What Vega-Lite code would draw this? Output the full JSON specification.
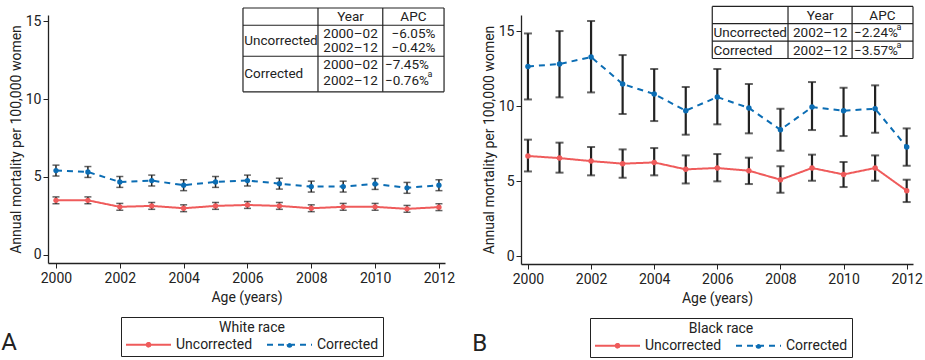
{
  "$schema": "https://vega.github.io/schema/vega-lite/v6.json",
  "padding": {"left": 1, "top": 5, "right": 5, "bottom": 3},
  "spacing": 17,
  "datasets": {
    "white": [
      {"year": 2000, "series": "Uncorrected", "value": 3.49, "lo": 3.27, "hi": 3.71},
      {"year": 2001, "series": "Uncorrected", "value": 3.49, "lo": 3.27, "hi": 3.71},
      {"year": 2002, "series": "Uncorrected", "value": 3.07, "lo": 2.85, "hi": 3.29},
      {"year": 2003, "series": "Uncorrected", "value": 3.13, "lo": 2.91, "hi": 3.35},
      {"year": 2004, "series": "Uncorrected", "value": 2.98, "lo": 2.76, "hi": 3.2},
      {"year": 2005, "series": "Uncorrected", "value": 3.13, "lo": 2.91, "hi": 3.35},
      {"year": 2006, "series": "Uncorrected", "value": 3.19, "lo": 2.97, "hi": 3.41},
      {"year": 2007, "series": "Uncorrected", "value": 3.13, "lo": 2.91, "hi": 3.35},
      {"year": 2008, "series": "Uncorrected", "value": 2.98, "lo": 2.76, "hi": 3.2},
      {"year": 2009, "series": "Uncorrected", "value": 3.07, "lo": 2.85, "hi": 3.29},
      {"year": 2010, "series": "Uncorrected", "value": 3.07, "lo": 2.85, "hi": 3.29},
      {"year": 2011, "series": "Uncorrected", "value": 2.94, "lo": 2.72, "hi": 3.16},
      {"year": 2012, "series": "Uncorrected", "value": 3.05, "lo": 2.83, "hi": 3.27},
      {"year": 2000, "series": "Corrected", "value": 5.4, "lo": 5.05, "hi": 5.75},
      {"year": 2001, "series": "Corrected", "value": 5.31, "lo": 4.96, "hi": 5.66},
      {"year": 2002, "series": "Corrected", "value": 4.67, "lo": 4.32, "hi": 5.02},
      {"year": 2003, "series": "Corrected", "value": 4.76, "lo": 4.41, "hi": 5.11},
      {"year": 2004, "series": "Corrected", "value": 4.46, "lo": 4.11, "hi": 4.81},
      {"year": 2005, "series": "Corrected", "value": 4.67, "lo": 4.32, "hi": 5.02},
      {"year": 2006, "series": "Corrected", "value": 4.76, "lo": 4.41, "hi": 5.11},
      {"year": 2007, "series": "Corrected", "value": 4.56, "lo": 4.21, "hi": 4.91},
      {"year": 2008, "series": "Corrected", "value": 4.37, "lo": 4.02, "hi": 4.72},
      {"year": 2009, "series": "Corrected", "value": 4.37, "lo": 4.02, "hi": 4.72},
      {"year": 2010, "series": "Corrected", "value": 4.54, "lo": 4.19, "hi": 4.89},
      {"year": 2011, "series": "Corrected", "value": 4.29, "lo": 3.94, "hi": 4.64},
      {"year": 2012, "series": "Corrected", "value": 4.46, "lo": 4.11, "hi": 4.81}
    ],
    "black": [
      {"year": 2000, "series": "Uncorrected", "value": 6.67, "lo": 5.64, "hi": 7.76},
      {"year": 2001, "series": "Uncorrected", "value": 6.53, "lo": 5.56, "hi": 7.56},
      {"year": 2002, "series": "Uncorrected", "value": 6.33, "lo": 5.38, "hi": 7.27},
      {"year": 2003, "series": "Uncorrected", "value": 6.16, "lo": 5.22, "hi": 7.11},
      {"year": 2004, "series": "Uncorrected", "value": 6.24, "lo": 5.38, "hi": 7.2},
      {"year": 2005, "series": "Uncorrected", "value": 5.78, "lo": 4.84, "hi": 6.71},
      {"year": 2006, "series": "Uncorrected", "value": 5.87, "lo": 4.98, "hi": 6.8},
      {"year": 2007, "series": "Uncorrected", "value": 5.69, "lo": 4.8, "hi": 6.56},
      {"year": 2008, "series": "Uncorrected", "value": 5.09, "lo": 4.22, "hi": 5.98},
      {"year": 2009, "series": "Uncorrected", "value": 5.87, "lo": 5.02, "hi": 6.76},
      {"year": 2010, "series": "Uncorrected", "value": 5.44, "lo": 4.6, "hi": 6.27},
      {"year": 2011, "series": "Uncorrected", "value": 5.87, "lo": 5.02, "hi": 6.71},
      {"year": 2012, "series": "Uncorrected", "value": 4.36, "lo": 3.6, "hi": 5.09},
      {"year": 2000, "series": "Corrected", "value": 12.64, "lo": 10.44, "hi": 14.84},
      {"year": 2001, "series": "Corrected", "value": 12.8, "lo": 10.58, "hi": 15.0},
      {"year": 2002, "series": "Corrected", "value": 13.27, "lo": 10.91, "hi": 15.67},
      {"year": 2003, "series": "Corrected", "value": 11.47, "lo": 9.47, "hi": 13.4},
      {"year": 2004, "series": "Corrected", "value": 10.8, "lo": 9.0, "hi": 12.47},
      {"year": 2005, "series": "Corrected", "value": 9.69, "lo": 8.09, "hi": 11.27},
      {"year": 2006, "series": "Corrected", "value": 10.6, "lo": 8.78, "hi": 12.47},
      {"year": 2007, "series": "Corrected", "value": 9.87, "lo": 8.18, "hi": 11.47},
      {"year": 2008, "series": "Corrected", "value": 8.42, "lo": 7.02, "hi": 9.82},
      {"year": 2009, "series": "Corrected", "value": 9.93, "lo": 8.4, "hi": 11.6},
      {"year": 2010, "series": "Corrected", "value": 9.69, "lo": 8.0, "hi": 11.22},
      {"year": 2011, "series": "Corrected", "value": 9.82, "lo": 8.22, "hi": 11.38},
      {"year": 2012, "series": "Corrected", "value": 7.27, "lo": 6.02, "hi": 8.51}
    ],
    "whiteGrid": [
      {"x": 2005.86, "x2": 2012.16, "y": 15.85, "y2": 15.85},
      {"x": 2005.86, "x2": 2012.16, "y": 14.74, "y2": 14.74},
      {"x": 2005.86, "x2": 2012.16, "y": 12.75, "y2": 12.75},
      {"x": 2005.86, "x2": 2012.16, "y": 10.46, "y2": 10.46},
      {"x": 2005.86, "x2": 2005.86, "y": 15.85, "y2": 10.46},
      {"x": 2008.21, "x2": 2008.21, "y": 15.85, "y2": 10.46},
      {"x": 2010.24, "x2": 2010.24, "y": 15.85, "y2": 10.46},
      {"x": 2012.16, "x2": 2012.16, "y": 15.85, "y2": 10.46}
    ],
    "whiteLeft": [
      {"x": 2005.9, "y": 13.73, "t": "Uncorrected"},
      {"x": 2005.9, "y": 11.61, "t": "Corrected"},
      {"x": 2010.31, "y": 12.17, "t": "−7.45%"},
      {"x": 2010.31, "y": 11.16, "t": "−0.76%"}
    ],
    "whiteCenter": [
      {"x": 2009.23, "y": 15.3, "t": "Year"},
      {"x": 2011.2, "y": 15.3, "t": "APC"},
      {"x": 2009.23, "y": 14.2, "t": "2000–02"},
      {"x": 2009.23, "y": 13.28, "t": "2002–12"},
      {"x": 2009.23, "y": 12.17, "t": "2000–02"},
      {"x": 2009.23, "y": 11.16, "t": "2002–12"},
      {"x": 2011.2, "y": 14.2, "t": "−6.05%"},
      {"x": 2011.2, "y": 13.28, "t": "−0.42%"}
    ],
    "whiteSup": [
      {"x": 2011.64, "y": 11.63, "t": "a"}
    ],
    "blackGrid": [
      {"x": 2005.84, "x2": 2012.2, "y": 16.64, "y2": 16.64},
      {"x": 2005.84, "x2": 2012.2, "y": 15.49, "y2": 15.49},
      {"x": 2005.84, "x2": 2012.2, "y": 14.33, "y2": 14.33},
      {"x": 2005.84, "x2": 2012.2, "y": 13.17, "y2": 13.17},
      {"x": 2005.84, "x2": 2005.84, "y": 16.64, "y2": 13.17},
      {"x": 2008.24, "x2": 2008.24, "y": 16.64, "y2": 13.17},
      {"x": 2010.27, "x2": 2010.27, "y": 16.64, "y2": 13.17},
      {"x": 2012.2, "x2": 2012.2, "y": 16.64, "y2": 13.17}
    ],
    "blackLeft": [
      {"x": 2005.88, "y": 14.84, "t": "Uncorrected"},
      {"x": 2005.88, "y": 13.67, "t": "Corrected"},
      {"x": 2010.33, "y": 14.84, "t": "−2.24%"},
      {"x": 2010.33, "y": 13.67, "t": "−3.57%"}
    ],
    "blackCenter": [
      {"x": 2009.26, "y": 16.02, "t": "Year"},
      {"x": 2011.23, "y": 16.02, "t": "APC"},
      {"x": 2009.26, "y": 14.84, "t": "2002–12"},
      {"x": 2009.26, "y": 13.67, "t": "2002–12"}
    ],
    "blackSup": [
      {"x": 2011.68, "y": 15.25, "t": "a"},
      {"x": 2011.68, "y": 14.05, "t": "a"}
    ]
  },
  "hconcat": [
    {
      "width": 397,
      "height": 248,
      "title": {"text": "A", "orient": "bottom", "anchor": "start", "frame": "bounds", "fontSize": 24, "fontWeight": "normal", "dx": -8, "dy": -30},
      "layer": [
        {
          "data": {"name": "white"},
          "mark": {"type": "errorbar", "color": "#222222", "ticks": {"size": 7, "thickness": 1.5}, "rule": {"strokeWidth": 1.5}},
          "encoding": {
            "x": {"field": "year", "type": "quantitative", "title": "Age (years)", "scale": {"domain": [1999.75, 2012.19], "nice": false, "zero": false}},
            "y": {"field": "lo", "type": "quantitative", "title": "Annual mortality per 100,000 women", "scale": {"domain": [-0.54, 15.4], "nice": false, "zero": false}},
            "y2": {"field": "hi"}
          }
        },
        {
          "data": {"name": "white"},
          "mark": {"type": "line", "strokeWidth": 2, "point": {"filled": true, "size": 28, "opacity": 1}},
          "encoding": {
            "x": {"field": "year", "type": "quantitative", "title": "Age (years)",
              "axis": {"values": [2000, 2002, 2004, 2006, 2008, 2010, 2012], "format": "d"}},
            "y": {"field": "value", "type": "quantitative", "title": "Annual mortality per 100,000 women",
              "axis": {"values": [0, 5, 10, 15]}},
            "color": {"field": "series", "type": "nominal", "title": "White race",
              "scale": {"domain": ["Uncorrected", "Corrected"], "range": ["#ef5b5b", "#0b6db4"]},
              "legend": {"orient": "none", "legendX": 73, "legendY": 302}},
            "strokeDash": {"field": "series", "type": "nominal", "title": "White race",
              "scale": {"domain": ["Uncorrected", "Corrected"], "range": [[1, 0], [6, 5]]},
              "legend": {"orient": "none", "legendX": 73, "legendY": 302}}
          }
        },
        {
          "data": {"name": "whiteGrid"},
          "mark": {"type": "rule", "color": "#222222", "strokeWidth": 1.2},
          "encoding": {
            "x": {"field": "x", "type": "quantitative"},
            "x2": {"field": "x2"},
            "y": {"field": "y", "type": "quantitative"},
            "y2": {"field": "y2"}
          }
        },
        {
          "data": {"name": "whiteLeft"},
          "mark": {"type": "text", "align": "left", "baseline": "middle", "fontSize": 13.5, "color": "#222222"},
          "encoding": {
            "x": {"field": "x", "type": "quantitative"},
            "y": {"field": "y", "type": "quantitative"},
            "text": {"field": "t"}
          }
        },
        {
          "data": {"name": "whiteCenter"},
          "mark": {"type": "text", "align": "center", "baseline": "middle", "fontSize": 13.5, "color": "#222222"},
          "encoding": {
            "x": {"field": "x", "type": "quantitative"},
            "y": {"field": "y", "type": "quantitative"},
            "text": {"field": "t"}
          }
        },
        {
          "data": {"name": "whiteSup"},
          "mark": {"type": "text", "align": "left", "baseline": "middle", "fontSize": 9, "color": "#222222"},
          "encoding": {
            "x": {"field": "x", "type": "quantitative"},
            "y": {"field": "y", "type": "quantitative"},
            "text": {"field": "t"}
          }
        }
      ]
    },
    {
      "width": 392,
      "height": 249,
      "title": {"text": "B", "orient": "bottom", "anchor": "start", "frame": "bounds", "fontSize": 24, "fontWeight": "normal", "dx": -10, "dy": -30},
      "layer": [
        {
          "data": {"name": "black"},
          "mark": {"type": "errorbar", "color": "#222222", "ticks": {"size": 8, "thickness": 2}, "rule": {"strokeWidth": 2.2}},
          "encoding": {
            "x": {"field": "year", "type": "quantitative", "title": "Age (years)", "scale": {"domain": [1999.78, 2012.2], "nice": false, "zero": false}},
            "y": {"field": "lo", "type": "quantitative", "title": "Annual mortality per 100,000 women", "scale": {"domain": [-0.53, 16.07], "nice": false, "zero": false}},
            "y2": {"field": "hi"}
          }
        },
        {
          "data": {"name": "black"},
          "mark": {"type": "line", "strokeWidth": 2, "point": {"filled": true, "size": 30, "opacity": 1}},
          "encoding": {
            "x": {"field": "year", "type": "quantitative", "title": "Age (years)",
              "axis": {"values": [2000, 2002, 2004, 2006, 2008, 2010, 2012], "format": "d"}},
            "y": {"field": "value", "type": "quantitative", "title": "Annual mortality per 100,000 women",
              "axis": {"values": [0, 5, 10, 15]}},
            "color": {"field": "series", "type": "nominal", "title": "Black race",
              "scale": {"domain": ["Uncorrected", "Corrected"], "range": ["#ef5b5b", "#0b6db4"]},
              "legend": {"orient": "none", "legendX": 69, "legendY": 303}},
            "strokeDash": {"field": "series", "type": "nominal", "title": "Black race",
              "scale": {"domain": ["Uncorrected", "Corrected"], "range": [[1, 0], [6, 5]]},
              "legend": {"orient": "none", "legendX": 69, "legendY": 303}}
          }
        },
        {
          "data": {"name": "blackGrid"},
          "mark": {"type": "rule", "color": "#222222", "strokeWidth": 1.2},
          "encoding": {
            "x": {"field": "x", "type": "quantitative"},
            "x2": {"field": "x2"},
            "y": {"field": "y", "type": "quantitative"},
            "y2": {"field": "y2"}
          }
        },
        {
          "data": {"name": "blackLeft"},
          "mark": {"type": "text", "align": "left", "baseline": "middle", "fontSize": 13.5, "color": "#222222"},
          "encoding": {
            "x": {"field": "x", "type": "quantitative"},
            "y": {"field": "y", "type": "quantitative"},
            "text": {"field": "t"}
          }
        },
        {
          "data": {"name": "blackCenter"},
          "mark": {"type": "text", "align": "center", "baseline": "middle", "fontSize": 13.5, "color": "#222222"},
          "encoding": {
            "x": {"field": "x", "type": "quantitative"},
            "y": {"field": "y", "type": "quantitative"},
            "text": {"field": "t"}
          }
        },
        {
          "data": {"name": "blackSup"},
          "mark": {"type": "text", "align": "left", "baseline": "middle", "fontSize": 9, "color": "#222222"},
          "encoding": {
            "x": {"field": "x", "type": "quantitative"},
            "y": {"field": "y", "type": "quantitative"},
            "text": {"field": "t"}
          }
        }
      ]
    }
  ],
  "resolve": {
    "scale": {"x": "independent", "y": "independent", "color": "independent", "strokeDash": "independent"},
    "legend": {"color": "independent", "strokeDash": "independent"}
  },
  "config": {
    "font": "Roboto",
    "view": {"stroke": null},
    "title": {"font": "Roboto", "color": "#222222"},
    "text": {"font": "Roboto"},
    "axis": {
      "grid": false,
      "domainColor": "#222222",
      "domainWidth": 1.3,
      "tickColor": "#222222",
      "tickSize": 5,
      "labelFont": "Roboto",
      "labelFontSize": 14,
      "labelColor": "#222222",
      "titleFont": "Roboto",
      "titleFontSize": 14,
      "titleFontWeight": "normal",
      "titleColor": "#222222"
    },
    "axisX": {"labelPadding": 3, "titlePadding": 5},
    "axisY": {"labelPadding": 2, "titlePadding": 2},
    "legend": {
      "direction": "horizontal",
      "strokeColor": "#222222",
      "padding": 4,
      "titleFont": "Roboto",
      "titleFontSize": 14,
      "titleFontWeight": "normal",
      "titleColor": "#222222",
      "titleAnchor": "middle",
      "titlePadding": 1,
      "labelFont": "Roboto",
      "labelFontSize": 14,
      "labelColor": "#222222",
      "labelOffset": 19,
      "columnPadding": 10,
      "symbolType": "M-3,0H3M-0.25,0a0.25,0.25 0 1,0 0.5,0a0.25,0.25 0 1,0 -0.5,0",
      "symbolSize": 225,
      "symbolStrokeWidth": 2,
      "symbolOffset": 15
    }
  }
}
